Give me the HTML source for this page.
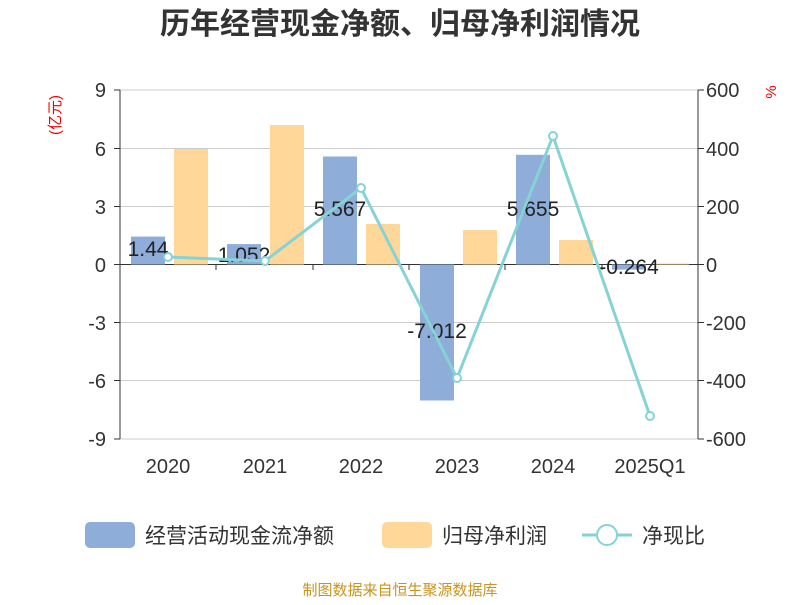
<!DOCTYPE html>
<html><head><meta charset="utf-8"><style>
body{margin:0;background:#fff;}
svg text{font-family:"Liberation Sans","Noto Sans CJK SC",sans-serif;}
</style></head><body>
<svg width="800" height="600" xmlns="http://www.w3.org/2000/svg">
<text x="400" y="34" text-anchor="middle" font-size="30" font-weight="bold" fill="#333">历年经营现金净额、归母净利润情况</text>
<g stroke="#ccc" stroke-width="1">
<line x1="120" y1="90" x2="698" y2="90"/>
<line x1="120" y1="148.5" x2="698" y2="148.5"/>
<line x1="120" y1="206.5" x2="698" y2="206.5"/>
<line x1="120" y1="322.5" x2="698" y2="322.5"/>
<line x1="120" y1="380.5" x2="698" y2="380.5"/>
<line x1="120" y1="439" x2="698" y2="439"/>
</g>
<g stroke="#333" stroke-width="1">
<line x1="120" y1="90" x2="120" y2="439"/>
<line x1="698" y1="90" x2="698" y2="439"/>
<line x1="120" y1="264.5" x2="698" y2="264.5"/>
<line x1="114" y1="90" x2="120" y2="90"/><line x1="114" y1="148.5" x2="120" y2="148.5"/><line x1="114" y1="206.5" x2="120" y2="206.5"/><line x1="114" y1="264.5" x2="120" y2="264.5"/><line x1="114" y1="322.5" x2="120" y2="322.5"/><line x1="114" y1="380.5" x2="120" y2="380.5"/><line x1="114" y1="439" x2="120" y2="439"/>
<line x1="698" y1="90" x2="704" y2="90"/><line x1="698" y1="148.5" x2="704" y2="148.5"/><line x1="698" y1="206.5" x2="704" y2="206.5"/><line x1="698" y1="264.5" x2="704" y2="264.5"/><line x1="698" y1="322.5" x2="704" y2="322.5"/><line x1="698" y1="380.5" x2="704" y2="380.5"/><line x1="698" y1="439" x2="704" y2="439"/>
<line x1="216" y1="264.5" x2="216" y2="270"/><line x1="313" y1="264.5" x2="313" y2="270"/><line x1="409" y1="264.5" x2="409" y2="270"/><line x1="505" y1="264.5" x2="505" y2="270"/><line x1="602" y1="264.5" x2="602" y2="270"/>
</g>
<g font-size="20" fill="#333" text-anchor="end">
<text x="106" y="97">9</text><text x="106" y="156">6</text><text x="106" y="214">3</text><text x="106" y="272">0</text><text x="106" y="330">-3</text><text x="106" y="388">-6</text><text x="106" y="446">-9</text>
</g>
<g font-size="20" fill="#333" text-anchor="start">
<text x="706" y="97">600</text><text x="706" y="156">400</text><text x="706" y="214">200</text><text x="706" y="272">0</text><text x="706" y="330">-200</text><text x="706" y="388">-400</text><text x="706" y="446">-600</text>
</g>
<text x="60" y="115" font-size="15" fill="#e00" text-anchor="middle" transform="rotate(-90 60 115)">(亿元)</text>
<text x="776" y="92" font-size="15" fill="#e00" text-anchor="middle" transform="rotate(-90 776 92)">%</text>
<g font-size="20" fill="#333" text-anchor="middle">
<text x="168" y="473">2020</text><text x="265" y="473">2021</text><text x="361" y="473">2022</text><text x="457" y="473">2023</text><text x="553" y="473">2024</text><text x="650" y="473">2025Q1</text>
</g>
<g fill="#8eadd9">
<rect x="131" y="236.6" width="34" height="27.9"/>
<rect x="227" y="244.1" width="34" height="20.4"/>
<rect x="323" y="156.5" width="34" height="108"/>
<rect x="420" y="264.5" width="34" height="136"/>
<rect x="516" y="154.8" width="34" height="109.7"/>
<rect x="612" y="264.5" width="34" height="5.1"/>
</g>
<g fill="#fed799">
<rect x="174" y="149" width="34" height="115.5"/>
<rect x="270" y="125" width="34" height="139.5"/>
<rect x="366" y="224" width="34" height="40.5"/>
<rect x="463" y="230" width="34" height="34.5"/>
<rect x="559" y="240" width="34" height="24.5"/>
<rect x="655" y="263.5" width="34" height="1"/>
</g>
<g font-size="21" fill="#222" text-anchor="middle">
<text x="148" y="256">1.44</text><text x="244" y="262">1.052</text><text x="340" y="216">5.567</text><text x="437" y="338">-7.012</text><text x="533" y="216">5.655</text><text x="629" y="274">-0.264</text>
</g>
<polyline points="168,257 265,261 361,188 457,378 553,136 650,416" fill="none" stroke="#86d3d6" stroke-width="3"/>
<g fill="#fff" stroke="#86d3d6" stroke-width="2">
<circle cx="168" cy="257" r="4"/><circle cx="265" cy="261" r="4"/><circle cx="361" cy="188" r="4"/><circle cx="457" cy="378" r="4"/><circle cx="553" cy="136" r="4"/><circle cx="650" cy="416" r="4"/>
</g>
<rect x="85" y="522" width="50" height="26" rx="5" fill="#8eadd9"/>
<text x="145" y="543" font-size="21" fill="#333">经营活动现金流净额</text>
<rect x="382" y="522" width="50" height="26" rx="5" fill="#fed799"/>
<text x="442" y="543" font-size="21" fill="#333">归母净利润</text>
<line x1="582" y1="535" x2="632" y2="535" stroke="#86d3d6" stroke-width="3"/>
<circle cx="607" cy="535" r="10" fill="#fff" stroke="#86d3d6" stroke-width="2"/>
<text x="642" y="543" font-size="21" fill="#333">净现比</text>
<text x="400" y="595" font-size="15" fill="#c8941e" text-anchor="middle">制图数据来自恒生聚源数据库</text>
</svg>
</body></html>
